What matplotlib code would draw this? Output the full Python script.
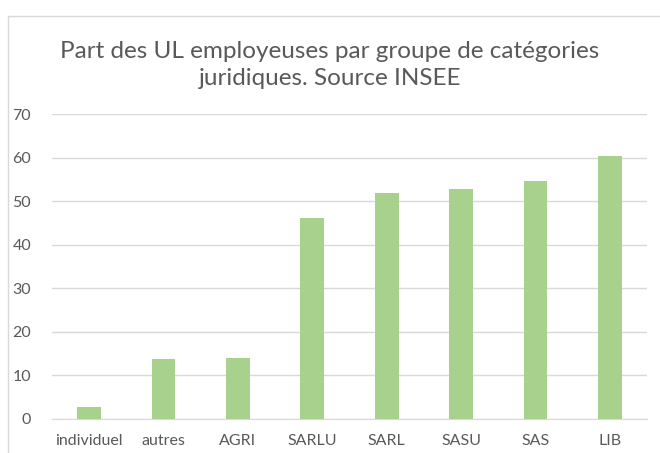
import matplotlib
matplotlib.use("Agg")
import matplotlib.pyplot as plt
from matplotlib.patches import Rectangle

# data
categories = ["individuel", "autres", "AGRI", "SARLU", "SARL", "SASU", "SAS", "LIB"]
values = [2.8, 13.7, 13.9, 46.1, 51.9, 52.9, 54.7, 60.3]
yticks = [0, 10, 20, 30, 40, 50, 60, 70]

plt.rcParams['font.family'] = ['Lato', 'DejaVu Sans']
grey = "#595959"

fig = plt.figure(figsize=(6.6, 4.53), dpi=100)

# chart area border (Excel style)
fig.patches.append(Rectangle((8 / 660, -0.1), 1.0, 1.1 - 16 / 453,
                             transform=fig.transFigure, fill=False,
                             edgecolor="#d9d9d9", linewidth=1.0))

ax = fig.add_axes([52 / 660, 1 - 419 / 453, (647 - 52) / 660, (419 - 114) / 453])
ax.bar(range(len(categories)), values, width=0.32, color="#a9d18e", zorder=3)

ax.set_ylim(0, 70)
ax.set_xlim(-0.5, len(categories) - 0.5)
ax.set_yticks(yticks)
ax.set_xticks(range(len(categories)))
ax.set_xticklabels(categories)
ax.yaxis.grid(True, color="#d9d9d9", linewidth=1.0, zorder=0)
for s in ["top", "right", "left"]:
    ax.spines[s].set_visible(False)
ax.spines["bottom"].set_color("#d9d9d9")
ax.tick_params(axis="both", length=0, colors=grey, labelsize=11.5)
ax.tick_params(axis="y", pad=15)
ax.tick_params(axis="x", pad=11)

fig.text(330 / 660, 1 - 65 / 453,
         "Part des UL employeuses par groupe de catégories\njuridiques. Source INSEE",
         ha="center", va="center", fontsize=17.5, color=grey, linespacing=1.3)

fig.savefig("out.png", dpi=100)
